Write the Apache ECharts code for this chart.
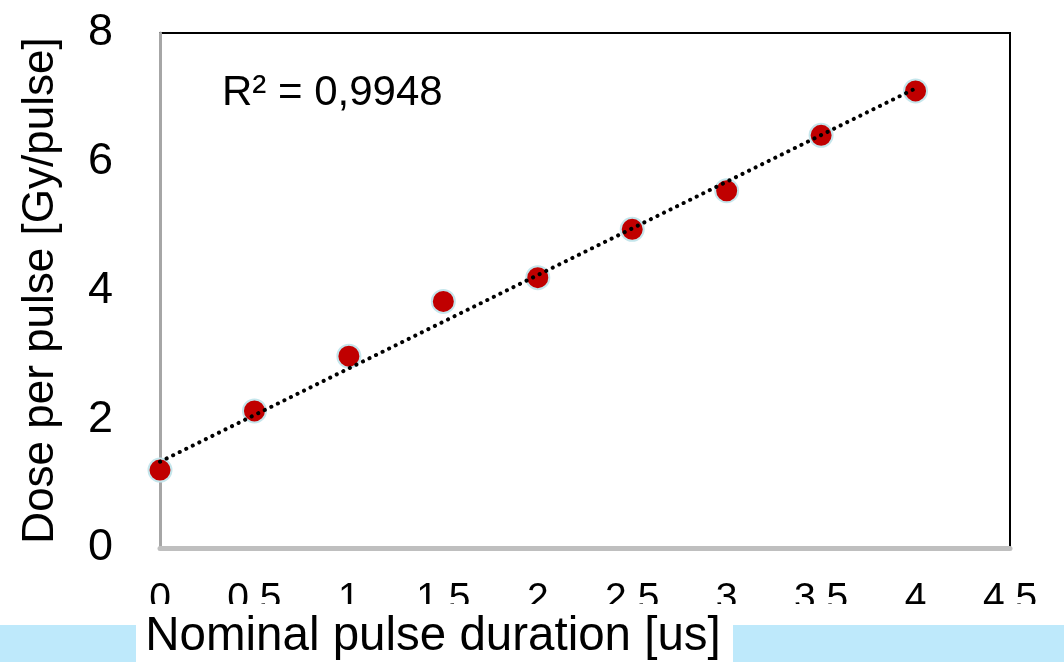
<!DOCTYPE html>
<html>
<head>
<meta charset="utf-8">
<script src="https://cdn.jsdelivr.net/npm/echarts@6/dist/echarts.min.js"></script>
<style>
html,body{margin:0;padding:0;background:#fff;}
#chart{width:1064px;height:662px;}
</style>
</head>
<body>
<div id="chart"></div>
<script>
// ---- data ----
var durations = [0, 0.5, 1, 1.5, 2, 2.5, 3, 3.5, 4];
var dosePerPulse = [1.21, 2.13, 2.98, 3.83, 4.20, 4.95, 5.55, 6.41, 7.10];
var trendX = [0, 4];
var trendY = [1.34, 7.14];
var xTickLabels = ["0", "0.5", "1", "1.5", "2", "2.5", "3", "3,5", "4", "4,5"];
var rSquaredText = "R\u00B2 = 0,9948";
var xTitle = "Nominal pulse duration [us]";
var yTitle = "Dose per pulse [Gy/pulse]";

var FONT = "'Liberation Sans', Arial, sans-serif";
var chart = echarts.init(document.getElementById('chart'), null, {renderer: 'canvas'});

var pts = durations.map(function (x, i) { return [x, dosePerPulse[i]]; });
var trend = trendX.map(function (x, i) { return [x, trendY[i]]; });

chart.setOption({
  animation: false,
  backgroundColor: '#ffffff',
  grid: {
    left: 160, right: 54, top: 33, bottom: 114,
    show: true, borderColor: '#000000', borderWidth: 2, backgroundColor: 'transparent'
  },
  xAxis: {
    type: 'value', min: 0, max: 4.5, interval: 0.5,
    axisLine: {show: true, lineStyle: {color: '#BFBFBF', width: 5}},
    axisTick: {show: false},
    splitLine: {show: false},
    axisLabel: {
      show: true, margin: 32, fontSize: 39, color: '#000', fontFamily: FONT,
      verticalAlign: 'top',
      formatter: function (v) { return xTickLabels[Math.round(v / 0.5)]; }
    }
  },
  yAxis: {
    type: 'value', min: 0, max: 8, interval: 2,
    name: yTitle, nameLocation: 'middle', nameRotate: 90, nameGap: 97,
    nameTextStyle: {fontSize: 44, color: '#000', fontFamily: FONT},
    axisLine: {show: true, lineStyle: {color: '#A6A6A6', width: 3}},
    axisTick: {show: false},
    splitLine: {show: false},
    axisLabel: {show: true, margin: 47, fontSize: 45, color: '#000', fontFamily: FONT}
  },
  series: [
    {
      type: 'scatter', data: pts, z: 2,
      symbol: 'circle', symbolSize: 23,
      itemStyle: {color: '#C00000', borderColor: '#C5E6EC', borderWidth: 2, opacity: 1}
    },
    {
      type: 'line', data: trend, z: 3, symbol: 'none', silent: true,
      lineStyle: {color: '#000000', width: 4, type: [0.1, 7.2], cap: 'round'}
    }
  ],
  graphic: [
    {type: 'rect', left: 0, top: 604, shape: {width: 1064, height: 21}, style: {fill: '#ffffff'}, z: 50},
    {type: 'rect', left: 0, top: 625, shape: {width: 136, height: 37}, style: {fill: '#BEE9FB'}, z: 50},
    {type: 'rect', left: 733, top: 625, shape: {width: 331, height: 37}, style: {fill: '#BEE9FB'}, z: 50},
    {type: 'text', x: 433, y: 637, z: 60,
      style: {text: xTitle, fontSize: 47.5, fontFamily: FONT, fill: '#000', align: 'center', verticalAlign: 'middle'}},
    {type: 'text', x: 222, y: 93, z: 60,
      style: {text: rSquaredText, fontSize: 42, fontFamily: FONT, fill: '#000', align: 'left', verticalAlign: 'middle'}}
  ]
});
</script>
</body>
</html>
